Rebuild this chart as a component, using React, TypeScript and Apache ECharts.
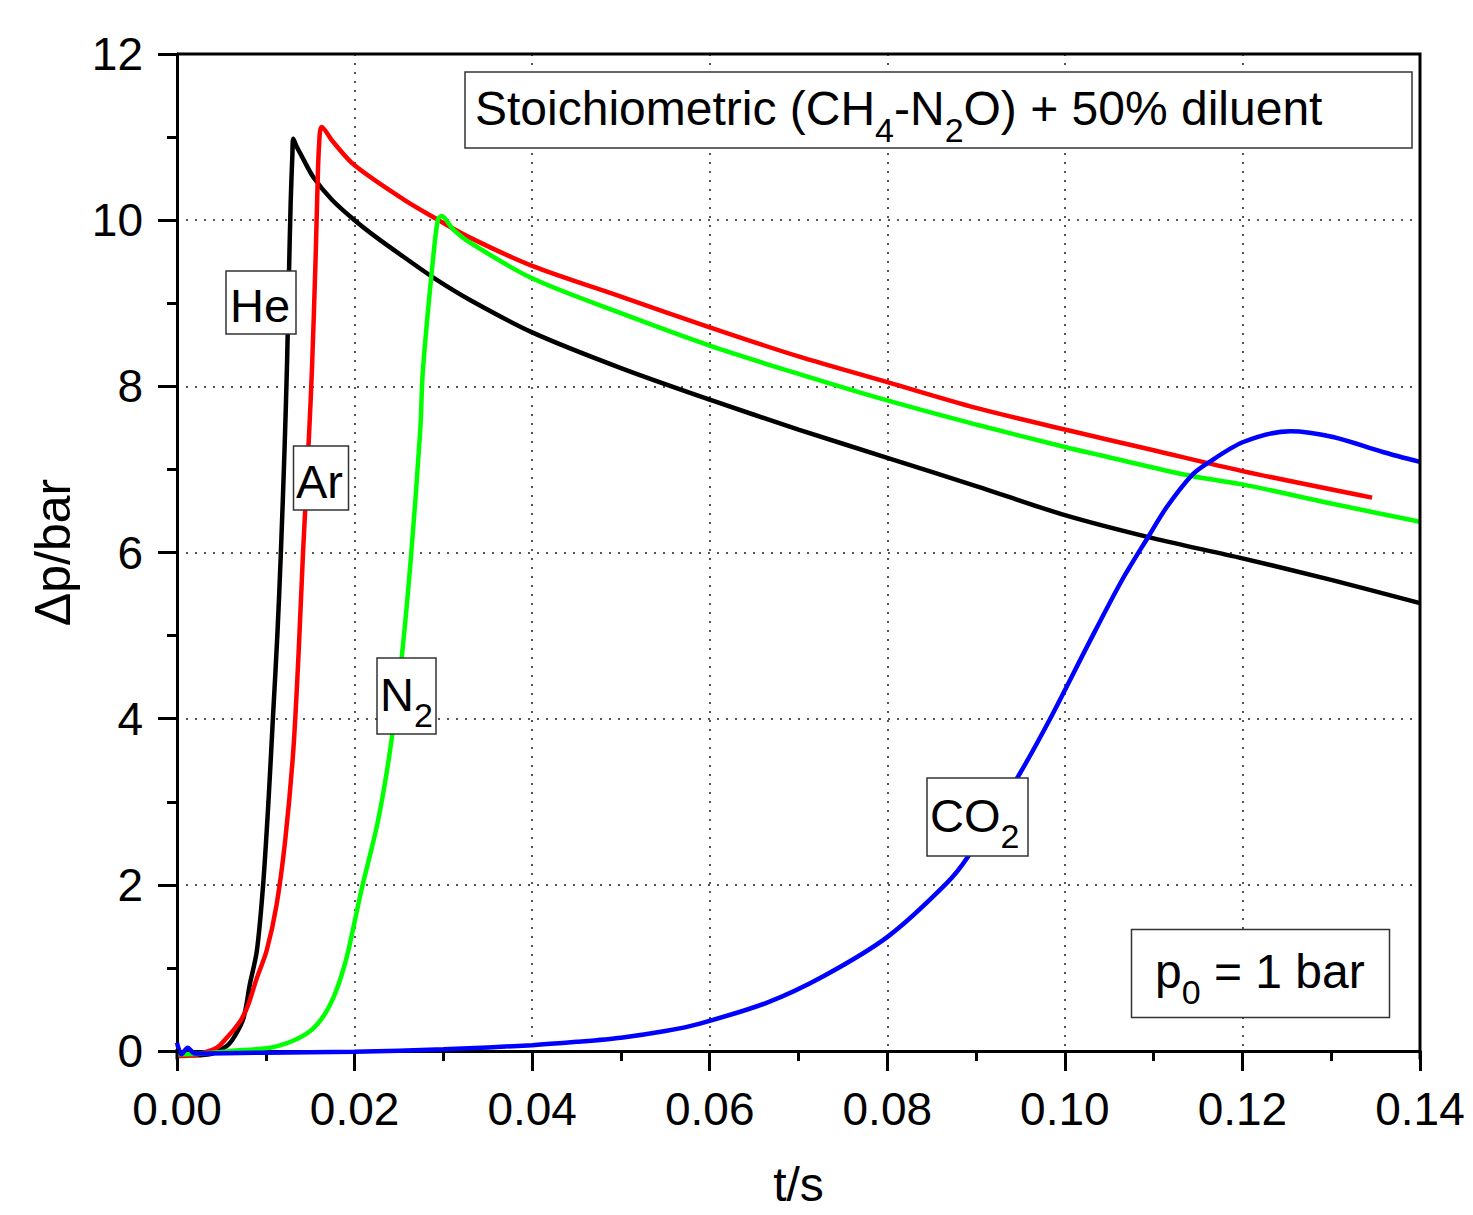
import React, { useEffect, useRef } from "react";
import * as echarts from "echarts";

const heData: [number, number][] = [
  [0, -0.04], [0.002, -0.05], [0.004, -0.03], [0.0056, 0.06], [0.0065, 0.18], [0.0075, 0.4],
  [0.0082, 0.8], [0.009, 1.21], [0.0097, 2.0], [0.0103, 3.0], [0.0108, 4.0], [0.0113, 5.0],
  [0.0117, 6.0], [0.0121, 7.2], [0.0124, 8.3], [0.0126, 9.3], [0.0128, 10.2], [0.013, 10.8],
  [0.0131, 10.98], [0.0135, 10.88], [0.014, 10.78], [0.0154, 10.51], [0.0175, 10.24], [0.02, 10.0],
  [0.0225, 9.79], [0.0255, 9.56], [0.029, 9.3], [0.033, 9.04], [0.04, 8.65], [0.05, 8.22],
  [0.06, 7.84], [0.07, 7.48], [0.08, 7.14], [0.09, 6.8], [0.1, 6.45], [0.11, 6.17], [0.12, 5.93],
  [0.13, 5.67], [0.14, 5.39],
];

const arData: [number, number][] = [
  [0, -0.06], [0.002, -0.05], [0.003, -0.02], [0.0045, 0.04], [0.0056, 0.16], [0.0065, 0.27],
  [0.0073, 0.39], [0.008, 0.55], [0.009, 0.88], [0.0101, 1.21], [0.0112, 1.75], [0.0122, 2.55],
  [0.0131, 3.62], [0.0137, 4.8], [0.0142, 6.01], [0.0149, 7.48], [0.0152, 8.2], [0.0156, 9.5],
  [0.0158, 10.3], [0.016, 10.9], [0.0163, 11.12], [0.0176, 10.94], [0.02, 10.66], [0.0255, 10.25],
  [0.0293, 10.01], [0.033, 9.79], [0.04, 9.45], [0.05, 9.08], [0.06, 8.71], [0.07, 8.36],
  [0.08, 8.05], [0.09, 7.74], [0.1, 7.48], [0.11, 7.23], [0.12, 6.98], [0.1346, 6.66],
];

const n2Data: [number, number][] = [
  [0, -0.04], [0.003, -0.03], [0.006, 0.0], [0.0105, 0.04], [0.013, 0.12], [0.015, 0.24],
  [0.0165, 0.42], [0.0176, 0.64], [0.0185, 0.9], [0.0193, 1.21], [0.0208, 1.95], [0.0226, 2.75],
  [0.024, 3.62], [0.0253, 4.73], [0.0264, 6.01], [0.0274, 7.48], [0.0277, 8.2], [0.0289, 9.6],
  [0.0294, 10.01], [0.0298, 10.05], [0.0311, 9.89], [0.033, 9.73], [0.04, 9.3], [0.05, 8.88],
  [0.06, 8.49], [0.07, 8.15], [0.08, 7.83], [0.09, 7.54], [0.1, 7.27], [0.104, 7.17],
  [0.1143, 6.92], [0.12, 6.82], [0.13, 6.59], [0.14, 6.37],
];

const co2Data: [number, number][] = [
  [0, 0.1], [0.0005, -0.04], [0.0012, 0.04], [0.002, -0.03], [0.01, -0.02], [0.02, -0.01],
  [0.03, 0.02], [0.04, 0.07], [0.045, 0.11], [0.05, 0.16], [0.055, 0.24], [0.0589, 0.33],
  [0.0664, 0.58], [0.0728, 0.9], [0.0801, 1.38], [0.0867, 2.02], [0.0891, 2.34], [0.0946, 3.28],
  [0.0983, 3.99], [0.1028, 4.93], [0.1064, 5.66], [0.1094, 6.19], [0.1115, 6.55], [0.1143, 6.93],
  [0.116, 7.07], [0.1201, 7.33], [0.1254, 7.46], [0.1302, 7.39], [0.1358, 7.21], [0.14, 7.09],
];

const seriesNames = ["He", "Ar", "N2", "CO2"];
const seriesColors = ["#000000", "#ff0000", "#00ff00", "#0000ff"];
const seriesData = [heData, arData, n2Data, co2Data];

const xTicks = { min: 0, max: 0.14, interval: 0.02 };
const yTicks = { min: 0, max: 12, interval: 2 };

const FONT = "'Liberation Sans', Arial, sans-serif";

function box(
  rx: number, ry: number, rw: number, rh: number,
  tx: number, ty: number, text: string, size: number
) {
  return {
    type: "group",
    z: 50,
    children: [
      {
        type: "rect",
        z: 50,
        shape: { x: rx, y: ry, width: rw, height: rh },
        style: { fill: "#ffffff", stroke: "#333", lineWidth: 1.5 },
      },
      {
        type: "text",
        z: 51,
        x: tx,
        y: ty,
        style: {
          text,
          align: "left",
          verticalAlign: "middle",
          fill: "#000",
          fontFamily: FONT,
          fontSize: size,
          rich: {
            m: { fontSize: size, fontFamily: FONT, lineHeight: 76, fill: "#000" },
            s: { fontSize: 34, fontFamily: FONT, lineHeight: 21, verticalAlign: "bottom", fill: "#000" },
          },
        },
      },
    ],
  };
}

export default function App() {
  const ref = useRef<HTMLDivElement>(null);
  useEffect(() => {
    if (!ref.current) return;
    const chart = echarts.init(ref.current, undefined, { renderer: "svg" });
    const option: any = {
      animation: false,
      backgroundColor: "#ffffff",
      grid: { left: 177, right: 53, top: 54, bottom: 164, containLabel: false, outerBoundsMode: "none" },
      xAxis: {
        type: "value",
        min: xTicks.min,
        max: xTicks.max,
        interval: xTicks.interval,
        offset: 7,
        name: "t/s",
        nameLocation: "middle",
        nameGap: 102,
        nameTextStyle: { fontSize: 48, fontFamily: FONT, color: "#000" },
        axisLine: { show: true, lineStyle: { color: "#000", width: 3 } },
        axisTick: { show: true, inside: false, length: 20, lineStyle: { color: "#000", width: 3 } },
        minorTick: { show: true, splitNumber: 2, length: 10, lineStyle: { color: "#000", width: 3 } },
        axisLabel: {
          fontSize: 46, fontFamily: FONT, color: "#000", margin: 28,
          formatter: (v: number) => v.toFixed(2),
        },
        splitLine: { show: true, lineStyle: { color: "#555", width: 2, type: [2, 7] } },
      },
      yAxis: {
        type: "value",
        min: yTicks.min,
        max: yTicks.max,
        interval: yTicks.interval,
        name: "\u0394p/bar",
        nameLocation: "middle",
        nameGap: 99,
        nameRotate: 90,
        nameTextStyle: { fontSize: 50, fontFamily: FONT, color: "#000" },
        axisLine: { show: true, lineStyle: { color: "#000", width: 3 } },
        axisTick: { show: true, inside: false, length: 19, lineStyle: { color: "#000", width: 3 } },
        minorTick: { show: true, splitNumber: 2, length: 10, lineStyle: { color: "#000", width: 3 } },
        axisLabel: { fontSize: 46, fontFamily: FONT, color: "#000", margin: 34 },
        splitLine: { show: true, lineStyle: { color: "#555", width: 2, type: [2, 7] } },
      },
      series: seriesData.map((d, i) => ({
        name: seriesNames[i],
        type: "line",
        data: d,
        showSymbol: false,
        clip: false,
        smooth: 0.3,
        lineStyle: { color: seriesColors[i], width: 4.5 },
        itemStyle: { color: seriesColors[i] },
        z: 2 + i,
      })),
      graphic: [
        {
          type: "polyline",
          z: 60,
          shape: { points: [[177, 54], [1420, 54], [1420, 1059.5]] },
          style: { stroke: "#000", lineWidth: 3, fill: null },
        },
        {
          type: "line",
          z: 60,
          shape: { x1: 177, y1: 1049, x2: 177, y2: 1059.5 },
          style: { stroke: "#000", lineWidth: 3 },
        },
        box(465, 72, 947, 76, 475, 108.5, "{m|Stoichiometric (CH}{s|4}{m|-N}{s|2}{m|O) + 50% diluent}", 48),
        box(1131.5, 929.5, 258, 88, 1155, 971, "{m|p}{s|0}{m| = 1 bar}", 48),
        box(226, 271, 70, 63, 230, 305.5, "{m|He}", 47),
        box(293.5, 446, 55, 64, 296, 481.5, "{m|Ar}", 47),
        box(377, 658, 59, 76, 380, 694, "{m|N}{s|2}", 47),
        box(927, 778, 101, 78, 930, 815, "{m|CO}{s|2}", 47),
      ],
    };
    chart.setOption(option);
    return () => chart.dispose();
  }, []);
  return (
    <div
      ref={ref}
      style={{ position: "fixed", left: 0, top: 0, width: 1473, height: 1215, background: "#fff" }}
    />
  );
}
